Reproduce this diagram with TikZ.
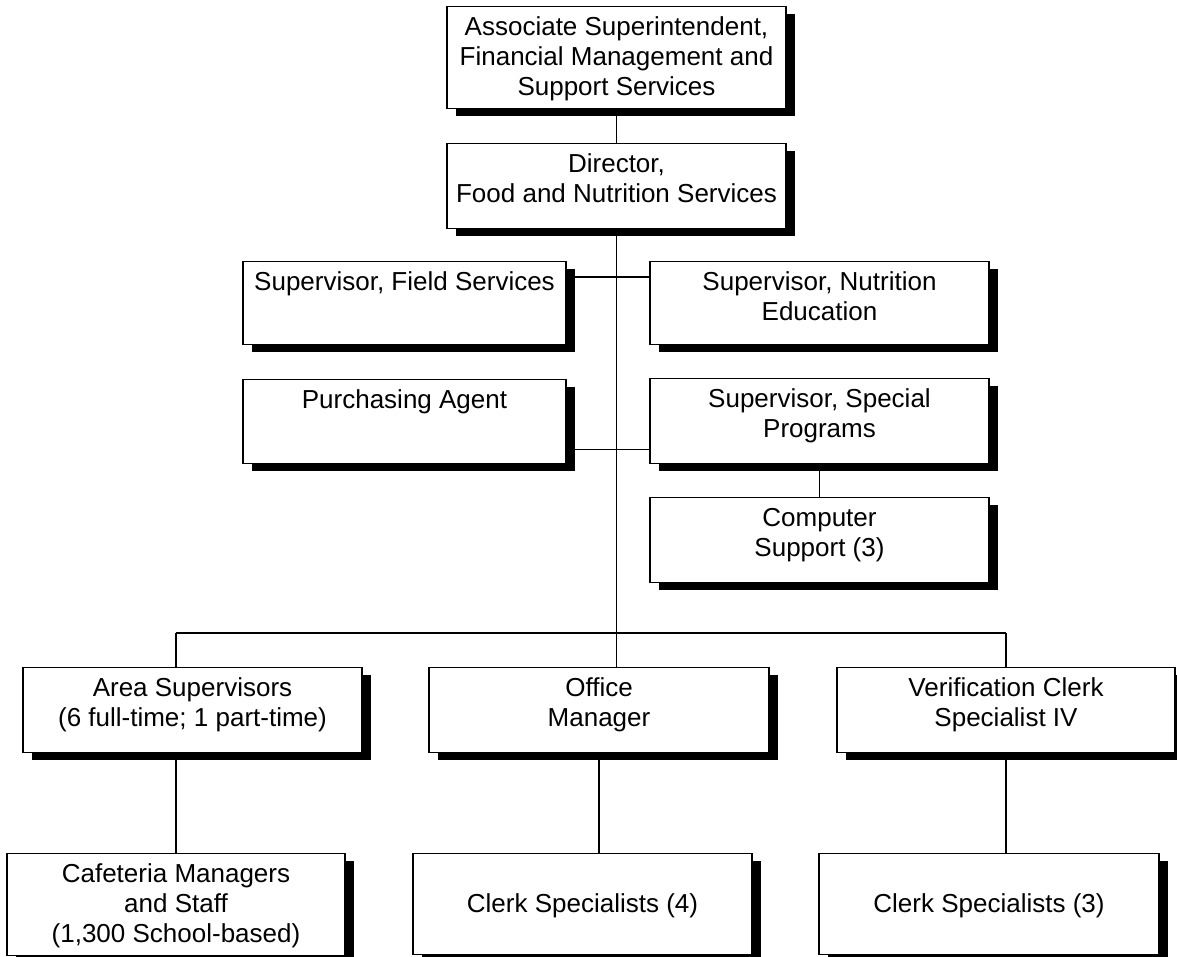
\documentclass[tikz,border=0pt]{standalone}
\usepackage{fontspec}
\setmainfont{Liberation Sans}
\usetikzlibrary{shadows,calc}
\pgfdeclarelayer{paper}
\pgfdeclarelayer{wires}
\pgfsetlayers{paper,wires,main}

% box text block: width, height, lines (set from the top of the box)
\newcommand{\toplines}[3]{\parbox[c][#2pt][t]{#1pt}{\centering\vspace*{8pt}\strut #3}}

\begin{document}
\begin{tikzpicture}[x=1pt,y=-1pt,
  orgbox/.style={draw=black, line width=1.3pt, fill=white, inner sep=0pt,
    anchor=north, font=\fontsize{26}{30}\selectfont,
    drop shadow={shadow xshift=9pt, shadow yshift=-7pt, fill=black, opacity=1}},
  wire/.style={draw=black, line width=1.3pt}]

\begin{pgfonlayer}{paper}
  \fill[white] (0,0) rectangle (1177,957);
\end{pgfonlayer}
\useasboundingbox (0,0) rectangle (1177,957);

% top of the chart
\node[orgbox] (assoc) at (616.5,6)
  {\toplines{339}{102}{Associate Superintendent,\\Financial Management and\\Support Services}};
\node[orgbox] (dir) at (616.5,143)
  {\toplines{339}{85}{Director,\\Food and Nutrition Services}};

% staff positions beside the trunk
\node[orgbox] (field) at (404.5,261)
  {\toplines{323}{83}{Supervisor, Field Services}};
\node[orgbox] (nutr) at (819.5,261)
  {\toplines{339}{83}{Supervisor, Nutrition\\Education}};
\node[orgbox] (purch) at (404.5,379)
  {\toplines{323}{84}{Purchasing Agent}};
\node[orgbox] (spec) at (819.5,378)
  {\toplines{339}{85}{Supervisor, Special\\Programs}};
\node[orgbox] (comp) at (819.5,497)
  {\toplines{339}{85}{Computer\\Support (3)}};

% line units
\node[orgbox] (area) at (192.5,667)
  {\toplines{339}{85}{Area Supervisors\\(6 full-time; 1 part-time)}};
\node[orgbox] (office) at (599,667)
  {\toplines{340}{85}{Office\\Manager}};
\node[orgbox] (verif) at (1006,667)
  {\toplines{338}{85}{Verification Clerk\\Specialist IV}};

% staff below each unit
\node[orgbox] (cafe) at (176,853)
  {\toplines{338}{102}{Cafeteria Managers\\and Staff\\(1,300 School-based)}};
\node[orgbox] (clerkA) at (582.5,853)
  {\toplines{339}{101}{\\Clerk Specialists (4)}};
\node[orgbox] (clerkB) at (989,853)
  {\toplines{340}{101}{\\Clerk Specialists (3)}};

\coordinate (bus) at (616.5,633);
\coordinate (fn) at ($(field.north east)+(0,16)$);
\coordinate (ps) at ($(purch.south east)+(0,-15)$);

\begin{pgfonlayer}{wires}
  \draw[wire] (assoc.south) -- (dir.north);
  \draw[wire] (dir.south) -- (bus);
  \draw[wire] (fn) -- (nutr.west |- fn);
  \draw[wire] (ps) -- (spec.west |- ps);
  \draw[wire] (spec.south) -- (comp.north);
  \draw[wire] (cafe.north |- bus) -- (verif.north |- bus);
  \draw[wire] (cafe.north |- bus) -- (cafe.north |- area.north);
  \draw[wire] (bus) -- (bus |- office.north);
  \draw[wire] (verif.north |- bus) -- (verif.north);
  \draw[wire] (cafe.north |- area.south) -- (cafe.north);
  \draw[wire] (office.south) -- (office.south |- clerkA.north);
  \draw[wire] (verif.south) -- (verif.south |- clerkB.north);
\end{pgfonlayer}

\end{tikzpicture}
\end{document}
